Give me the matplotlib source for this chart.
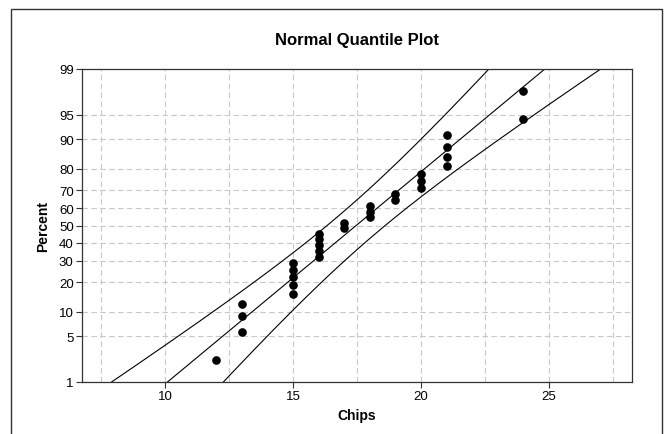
import numpy as np
import matplotlib
matplotlib.use('Agg')
import matplotlib.pyplot as plt
from matplotlib.patches import Rectangle
from matplotlib.ticker import FixedLocator, MultipleLocator, NullFormatter, FixedFormatter
from statistics import NormalDist

plt.rcParams['font.family'] = ['Liberation Sans', 'DejaVu Sans']

# ---------------- data ----------------
chips = np.array([12,
                  13, 13, 13,
                  15, 15, 15, 15, 15,
                  16, 16, 16, 16, 16,
                  17, 17,
                  18, 18, 18,
                  19, 19,
                  20, 20, 20,
                  21, 21, 21, 21,
                  24, 24])
pct_ticks = [1, 5, 10, 20, 30, 40, 50, 60, 70, 80, 90, 95, 99]
x_ticks = [10, 15, 20, 25]

# ---------------- stats ----------------
nd = NormalDist()
n = len(chips)
xs = np.sort(chips)
ranks = np.arange(1, n + 1)
pct = (ranks - 0.3) / (n + 0.4) * 100          # median ranks
mu = chips.mean()
sd = chips.std(ddof=1)

z = np.linspace(-3.2, 3.2, 400)
p_line = np.array([nd.cdf(v) for v in z]) * 100
fit = mu + z * sd
half = 1.96 * sd * np.sqrt(1 / n + z ** 2 / (2 * n))

_ppf = np.vectorize(nd.inv_cdf, otypes=[float])
_cdf = np.vectorize(nd.cdf, otypes=[float])


def fwd(p):
    p = np.clip(np.asarray(p, dtype=float) / 100, 1e-9, 1 - 1e-9)
    return _ppf(p)


def inv(v):
    return _cdf(np.asarray(v, dtype=float)) * 100


# ---------------- plot ----------------
fig = plt.figure(figsize=(6.65, 4.35), dpi=100)
ax = fig.add_axes([82 / 665, 1 - 383 / 435, 550 / 665, 313 / 435])
ax.set_yscale('function', functions=(fwd, inv))

ax.plot(fit, p_line, color='black', lw=0.8)
ax.plot(fit - half, p_line, color='black', lw=0.8)
ax.plot(fit + half, p_line, color='black', lw=0.8)
ax.plot(xs, pct, 'o', color='black', ms=5.2, zorder=5)

ax.set_xlim(6.75, 28.25)
ax.set_ylim(1, 99)

ax.xaxis.set_major_locator(FixedLocator(x_ticks))
ax.xaxis.set_minor_locator(MultipleLocator(2.5))
ax.yaxis.set_major_locator(FixedLocator(pct_ticks))
ax.yaxis.set_minor_locator(FixedLocator([]))
ax.yaxis.set_major_formatter(FixedFormatter([str(t) for t in pct_ticks]))
ax.yaxis.set_minor_formatter(NullFormatter())

ax.grid(True, which='both', color='#c8c8c8', ls=(0, (5, 3)), lw=0.8)
ax.set_axisbelow(True)
ax.tick_params(axis='both', which='major', length=4, width=0.8,
               labelsize=9.5, pad=2, color='#333333')
ax.tick_params(axis='both', which='minor', length=0)
for s in ax.spines.values():
    s.set_color('#333333')
    s.set_linewidth(0.9)

ax.set_xlabel('Chips', fontsize=10, fontweight='bold', labelpad=4)
ax.set_ylabel('Percent', fontsize=10, fontweight='bold', labelpad=6)

fig.text(357 / 665, 1 - 41 / 435, 'Normal Quantile Plot', ha='center',
         va='center', fontsize=12, fontweight='bold')

fig.add_artist(Rectangle((10.5 / 665, -0.1), 651 / 665, 1.1 - 10 / 435,
                         transform=fig.transFigure, fill=False,
                         ec='#333333', lw=1))

fig.savefig('out.png', dpi=100)
